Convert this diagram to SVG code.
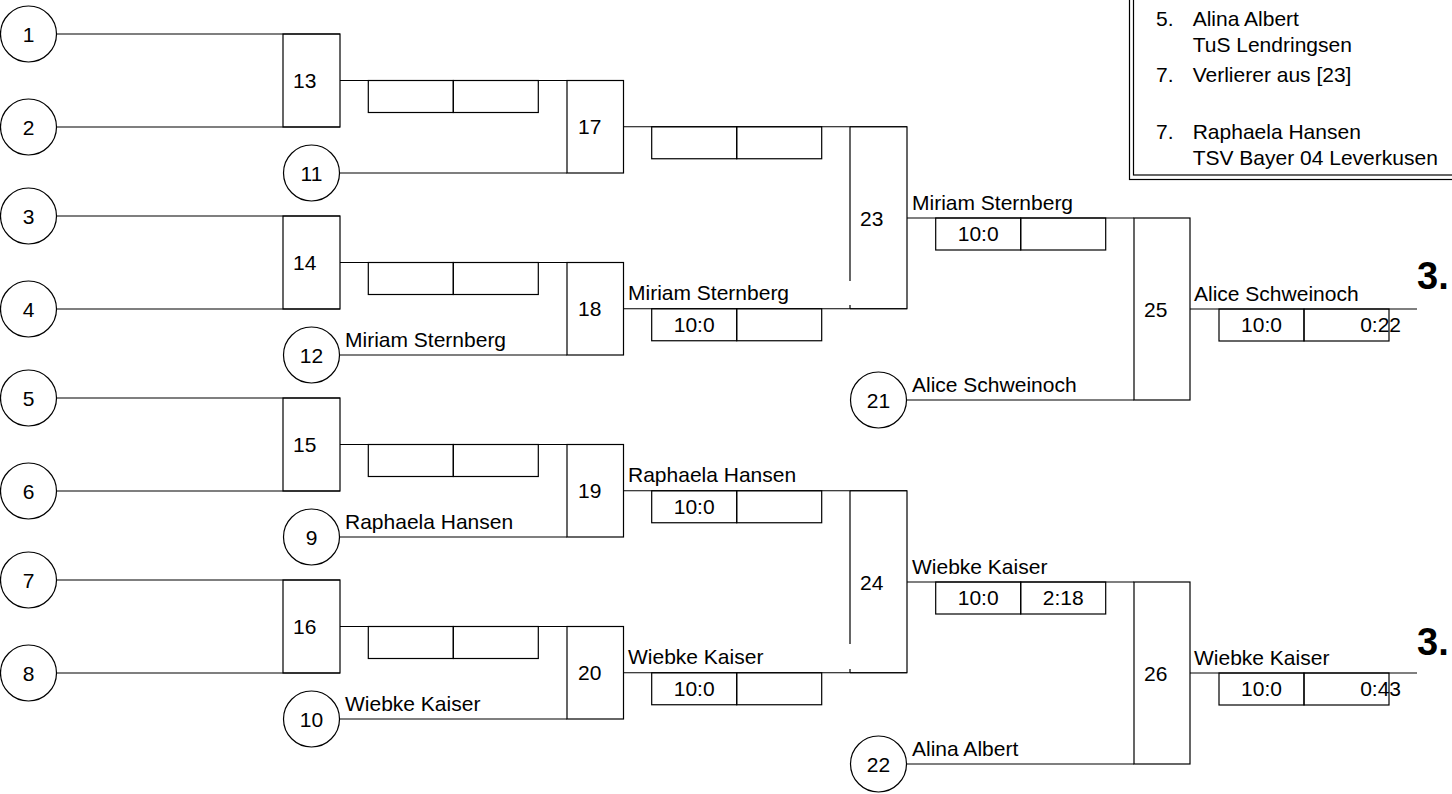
<svg xmlns="http://www.w3.org/2000/svg" width="1452" height="794" viewBox="0 0 1452 794">
<style>
text{font-family:"Liberation Sans",Arial,sans-serif;font-size:21px;fill:#000}
.c{text-anchor:middle}
.e{text-anchor:end}
.b{font-weight:bold;font-size:38px}
circle,rect,line,path{fill:none;stroke:#000;stroke-width:1.2}
rect.bg{fill:#fff;stroke:none}
</style>
<rect class="bg" x="0" y="0" width="1452" height="794"/>
<g id="connectors">
<path d="M56.5 34H340M56.5 127H340M340 80.5H567M339.5 173H567M623.5 126.75H907"/>
<path d="M56.5 216H340M56.5 309H340M340 262.5H567M339.5 355H567M623.5 308.75H907"/>
<path d="M56.5 398H340M56.5 491H340M340 444.5H567M339.5 537H567M623.5 490.75H907"/>
<path d="M56.5 580H340M56.5 673H340M340 626.5H567M339.5 719H567M623.5 672.75H907"/>
<path d="M907 218H1134M906.5 400H1134M1190 309H1417"/>
<path d="M907 582H1134M906.5 764H1134M1190 673H1417"/>
</g>
<g id="scores">
<rect x="368.3" y="80.5" width="85" height="32"/><rect x="453.3" y="80.5" width="85" height="32"/>
<rect x="368.3" y="262.5" width="85" height="32"/><rect x="453.3" y="262.5" width="85" height="32"/>
<rect x="368.3" y="444.5" width="85" height="32"/><rect x="453.3" y="444.5" width="85" height="32"/>
<rect x="368.3" y="626.5" width="85" height="32"/><rect x="453.3" y="626.5" width="85" height="32"/>
<rect x="651.7" y="126.75" width="85" height="32"/><rect x="736.7" y="126.75" width="85" height="32"/>
<rect x="651.7" y="308.75" width="85" height="32"/><rect x="736.7" y="308.75" width="85" height="32"/>
<rect x="651.7" y="490.75" width="85" height="32"/><rect x="736.7" y="490.75" width="85" height="32"/>
<rect x="651.7" y="672.75" width="85" height="32"/><rect x="736.7" y="672.75" width="85" height="32"/>
<rect x="935.7" y="218" width="85" height="32"/><rect x="1020.7" y="218" width="85" height="32"/>
<rect x="935.7" y="582" width="85" height="32"/><rect x="1020.7" y="582" width="85" height="32"/>
<rect x="1219" y="309" width="85" height="32"/><rect x="1304" y="309" width="85" height="32"/>
<rect x="1219" y="673" width="85" height="32"/><rect x="1304" y="673" width="85" height="32"/>
<text x="694.2" y="331.75" class="c">10:0</text>
<text x="694.2" y="513.75" class="c">10:0</text>
<text x="694.2" y="695.75" class="c">10:0</text>
<text x="978.2" y="241" class="c">10:0</text>
<text x="978.2" y="605" class="c">10:0</text>
<text x="1063.2" y="605" class="c">2:18</text>
<text x="1261.5" y="332" class="c">10:0</text>
<text x="1401" y="332" class="e">0:22</text>
<text x="1261.5" y="696" class="c">10:0</text>
<text x="1401" y="696" class="e">0:43</text>
</g>
<g id="names">
<text x="345" y="346.5">Miriam Sternberg</text>
<text x="628" y="300.25">Miriam Sternberg</text>
<text x="345" y="528.5">Raphaela Hansen</text>
<text x="628" y="482.25">Raphaela Hansen</text>
<text x="345" y="710.5">Wiebke Kaiser</text>
<text x="628" y="664.25">Wiebke Kaiser</text>
<text x="912" y="209.5">Miriam Sternberg</text>
<text x="912" y="391.5">Alice Schweinoch</text>
<text x="912" y="573.5">Wiebke Kaiser</text>
<text x="912" y="755.5">Alina Albert</text>
<text x="1194" y="300.5">Alice Schweinoch</text>
<text x="1194" y="664.5">Wiebke Kaiser</text>
</g>
<g id="c1"><circle cx="28.5" cy="34" r="28"/><text x="28.5" y="41.5" class="c">1</text></g>
<g id="c2"><circle cx="28.5" cy="127" r="28"/><text x="28.5" y="134.5" class="c">2</text></g>
<g id="c3"><circle cx="28.5" cy="216" r="28"/><text x="28.5" y="223.5" class="c">3</text></g>
<g id="c4"><circle cx="28.5" cy="309" r="28"/><text x="28.5" y="316.5" class="c">4</text></g>
<g id="c5"><circle cx="28.5" cy="398" r="28"/><text x="28.5" y="405.5" class="c">5</text></g>
<g id="c6"><circle cx="28.5" cy="491" r="28"/><text x="28.5" y="498.5" class="c">6</text></g>
<g id="c7"><circle cx="28.5" cy="580" r="28"/><text x="28.5" y="587.5" class="c">7</text></g>
<g id="c8"><circle cx="28.5" cy="673" r="28"/><text x="28.5" y="680.5" class="c">8</text></g>
<g id="c11"><circle cx="311.5" cy="173" r="28"/><text x="311.5" y="180.5" class="c">11</text></g>
<g id="c12"><circle cx="311.5" cy="355" r="28"/><text x="311.5" y="362.5" class="c">12</text></g>
<g id="c9"><circle cx="311.5" cy="537" r="28"/><text x="311.5" y="544.5" class="c">9</text></g>
<g id="c10"><circle cx="311.5" cy="719" r="28"/><text x="311.5" y="726.5" class="c">10</text></g>
<g id="c21"><circle cx="878.5" cy="400" r="28"/><text x="878.5" y="407.5" class="c">21</text></g>
<g id="c22"><circle cx="878.5" cy="764" r="28"/><text x="878.5" y="771.5" class="c">22</text></g>
<g id="m13"><rect x="283" y="34" width="57" height="93"/><text x="293" y="88">13</text></g>
<g id="m14"><rect x="283" y="216" width="57" height="93"/><text x="293" y="270">14</text></g>
<g id="m15"><rect x="283" y="398" width="57" height="93"/><text x="293" y="452">15</text></g>
<g id="m16"><rect x="283" y="580" width="57" height="93"/><text x="293" y="634">16</text></g>
<g id="m17"><rect x="567" y="80.5" width="56.5" height="92.5"/><text x="578" y="134.25">17</text></g>
<g id="m18"><rect x="567" y="262.5" width="56.5" height="92.5"/><text x="578" y="316.25">18</text></g>
<g id="m19"><rect x="567" y="444.5" width="56.5" height="92.5"/><text x="578" y="498.25">19</text></g>
<g id="m20"><rect x="567" y="626.5" width="56.5" height="92.5"/><text x="578" y="680.25">20</text></g>
<g id="m23"><path d="M850 126.75H907V308.75H850M850 126.75V281M850 305V308.75"/><text x="860" y="225.5">23</text></g>
<g id="m24"><path d="M850 490.75H907V672.75H850M850 490.75V644M850 669V672.75"/><text x="860" y="589.5">24</text></g>
<g id="m25"><rect x="1134" y="218" width="56" height="182"/><text x="1144" y="316.5">25</text></g>
<g id="m26"><rect x="1134" y="582" width="56" height="182"/><text x="1144" y="680.5">26</text></g>
<g id="place1"><text x="1417" y="288.5" class="b">3.</text></g>
<g id="place2"><text x="1417" y="655" class="b">3.</text></g>
<g id="legend">
<rect x="1129.5" y="-10" width="400" height="189.5"/>
<rect x="1133.5" y="-10" width="400" height="185"/>
<text x="1156" y="26">5.</text><text x="1192.7" y="26">Alina Albert</text>
<text x="1192.7" y="52">TuS Lendringsen</text>
<text x="1156" y="82">7.</text><text x="1192.7" y="82">Verlierer aus [23]</text>
<text x="1156" y="138.5">7.</text><text x="1192.7" y="138.5">Raphaela Hansen</text>
<text x="1192.7" y="165">TSV Bayer 04 Leverkusen</text>
</g>
</svg>
